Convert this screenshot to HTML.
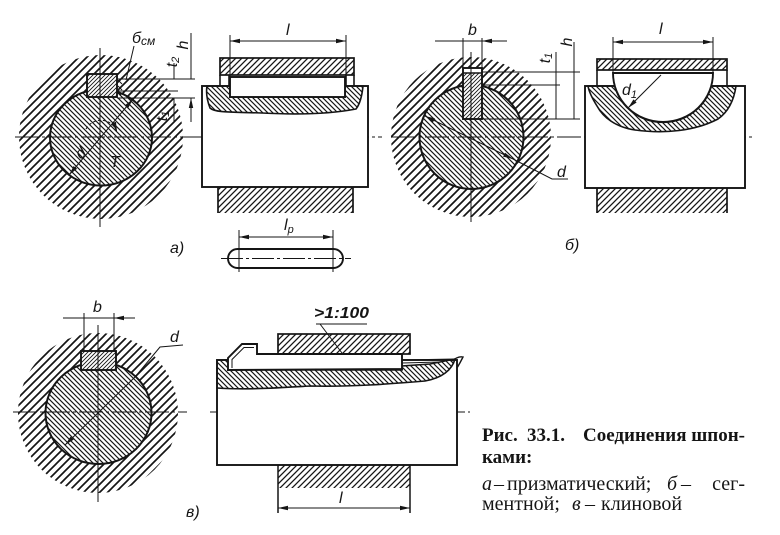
<!DOCTYPE html>
<html><head><meta charset="utf-8"><style>
html,body{margin:0;padding:0;background:#fff;}
svg{display:block;}
.lb{font-family:"Liberation Sans","DejaVu Sans",sans-serif;font-style:italic;font-size:16px;fill:#151515}
.cb{font-family:"Liberation Serif","DejaVu Serif",serif;font-weight:bold;font-size:19px;fill:#151515}
.cr{font-family:"Liberation Serif","DejaVu Serif",serif;font-size:20px;fill:#151515}
.ci{font-family:"Liberation Serif","DejaVu Serif",serif;font-size:20px;font-style:italic;fill:#151515}
</style></head><body>
<svg width="780" height="535" viewBox="0 0 780 535" xmlns="http://www.w3.org/2000/svg">
<defs>
<pattern id="hub" width="8" height="8" patternUnits="userSpaceOnUse"><path d="M-2,2 L2,-2 M0,8 L8,0 M6,10 L10,6" stroke="#151515" stroke-width="1.7"/></pattern>
<pattern id="sh" width="5" height="5" patternUnits="userSpaceOnUse"><path d="M-1,4 L1,6 M0,0 L5,5 M4,-1 L6,1" stroke="#151515" stroke-width="1.15"/></pattern>
<pattern id="hs" width="6" height="6" patternUnits="userSpaceOnUse"><path d="M-1.5,1.5 L1.5,-1.5 M0,6 L6,0 M4.5,7.5 L7.5,4.5" stroke="#151515" stroke-width="1.3"/></pattern>
<pattern id="kf" width="4" height="4" patternUnits="userSpaceOnUse"><path d="M-1,1 L1,-1 M0,4 L4,0 M3,5 L5,3" stroke="#151515" stroke-width="0.9"/></pattern>
<marker id="ar" markerWidth="10" markerHeight="6" refX="10" refY="3" orient="auto-start-reverse" markerUnits="userSpaceOnUse"><path d="M0,0.8 L10,3 L0,5.2 Z" fill="#151515"/></marker>
</defs>

<!-- ===== a) circle ===== -->
<circle cx="101" cy="137" r="82" fill="url(#hub)"/>
<ellipse cx="101" cy="137.5" rx="51" ry="48" fill="#fff"/>
<ellipse cx="101" cy="137.5" rx="51" ry="48" fill="url(#sh)" stroke="#151515" stroke-width="2"/>
<rect x="87" y="74" width="30" height="23" fill="#fff"/>
<rect x="87" y="74" width="30" height="23" fill="url(#kf)" stroke="#151515" stroke-width="1.9"/>
<path d="M15,137 H382" fill="none" stroke="#151515" stroke-width="1.1" stroke-dasharray="24 3 3 3"/>
<path d="M100,48 V227" fill="none" stroke="#151515" stroke-width="1"/>
<path d="M117,79 H195 M117,91 H178 M117,98 H195" fill="none" stroke="#151515" stroke-width="1"/>
<path d="M118,80 L122,84 M118,86 L122,90 M118,92 L121,95" fill="none" stroke="#151515" stroke-width="1"/>
<path d="M174,63 V79 M174,122 V98 M191,33 V79 M191,122 V98" fill="none" stroke="#151515" stroke-width="1" marker-end="url(#ar)"/>
<path d="M134,46 L126,80" fill="none" stroke="#151515" stroke-width="1"/>
<path d="M69,175 L133,99" fill="none" stroke="#151515" stroke-width="1" marker-start="url(#ar)" marker-end="url(#ar)"/>
<path d="M86,129 A17,17 0 0 1 117,132" fill="none" stroke="#151515" stroke-width="1" stroke-dasharray="3 2" marker-end="url(#ar)"/>
<text x="132" y="43" class="lb">б<tspan font-size="12" dy="2">см</tspan></text>
<text transform="translate(188,45) rotate(-90)" text-anchor="middle" class="lb">h</text>
<text transform="translate(177,62) rotate(-90)" text-anchor="middle" class="lb">t<tspan font-size="11" dy="2">2</tspan></text>
<text transform="translate(167,116) rotate(-90)" text-anchor="middle" class="lb">t<tspan font-size="11" dy="2">1</tspan></text>
<text transform="translate(84,157) rotate(-40)" text-anchor="middle" class="lb">d</text>
<text x="110" y="167" class="lb">T</text>

<!-- ===== a) side view ===== -->
<rect x="202" y="86" width="166" height="101" fill="#fff" stroke="#151515" stroke-width="1.9"/>
<path d="M207,86 H230 V97 H345 V86 H363 C362,96 360,104 356,109 C330,114 300,115 262,113 C235,112 215,113 210,108 C207,100 206,92 207,86 Z" fill="url(#sh)" stroke="#151515" stroke-width="1.6"/>
<rect x="230" y="77" width="115" height="20" fill="#fff" stroke="#151515" stroke-width="1.9"/>
<rect x="220" y="58" width="134" height="17" fill="url(#hs)" stroke="#151515" stroke-width="1.7"/>
<path d="M220,75 V86 M354,75 V86 M229,75 V86 M346,75 V86" fill="none" stroke="#151515" stroke-width="1.6"/>
<rect x="218" y="187" width="135" height="26" fill="url(#hs)"/>
<path d="M218,187 V213 M353,187 V213" fill="none" stroke="#151515" stroke-width="1.7"/>
<path d="M230,35 V77 M346,35 V77" fill="none" stroke="#151515" stroke-width="1"/>
<path d="M230,41 H346" fill="none" stroke="#151515" stroke-width="1" marker-start="url(#ar)" marker-end="url(#ar)"/>
<text x="286" y="35" class="lb">l</text>
<rect x="228" y="249" width="115" height="19" rx="9.5" fill="none" stroke="#151515" stroke-width="1.9"/>
<path d="M221,258.5 H351" fill="none" stroke="#151515" stroke-width="1" stroke-dasharray="22 3 3 3"/>
<path d="M239,230 V272 M333,230 V272" fill="none" stroke="#151515" stroke-width="1"/>
<path d="M239,237 H333" fill="none" stroke="#151515" stroke-width="1" marker-start="url(#ar)" marker-end="url(#ar)"/>
<text x="284" y="230" class="lb">l<tspan font-size="11" dy="3">p</tspan></text>
<text x="170" y="253" class="lb">a)</text>

<!-- ===== б) circle ===== -->
<circle cx="471" cy="137" r="80" fill="url(#hub)"/>
<circle cx="471.5" cy="137" r="52" fill="#fff"/>
<circle cx="471.5" cy="137" r="52" fill="url(#sh)" stroke="#151515" stroke-width="2"/>
<rect x="463" y="68" width="19" height="51" fill="#fff"/>
<rect x="463" y="73" width="19" height="46" fill="url(#kf)"/>
<rect x="463" y="68" width="19" height="51" fill="none" stroke="#151515" stroke-width="1.9"/>
<path d="M463,73 H482" stroke="#151515" stroke-width="1.5"/>
<path d="M392,137 H752" fill="none" stroke="#151515" stroke-width="1.1" stroke-dasharray="24 3 3 3"/>
<path d="M471,52 V222" fill="none" stroke="#151515" stroke-width="1"/>
<path d="M482,72 H580 M482,85 H560 M463,119 H580" fill="none" stroke="#151515" stroke-width="1"/>
<path d="M556,52 V119 M574,42 V119 M435,41 H507 M463,38 V68 M482,38 V68" fill="none" stroke="#151515" stroke-width="1"/>
<path d="M556,100 V85 M556,100 V119 M574,95 V72 M574,95 V119 M440,41 H463 M502,41 H482" fill="none" stroke="#151515" stroke-width="1" marker-end="url(#ar)"/>
<path d="M425,116 L513,159" fill="none" stroke="#151515" stroke-width="1" marker-start="url(#ar)" marker-end="url(#ar)"/>
<path d="M513,159 L552,179 H568" fill="none" stroke="#151515" stroke-width="1"/>
<text x="468" y="35" class="lb">b</text>
<text transform="translate(550,58) rotate(-90)" text-anchor="middle" class="lb">t<tspan font-size="11" dy="2">1</tspan></text>
<text transform="translate(572,42) rotate(-90)" text-anchor="middle" class="lb">h</text>
<text x="557" y="177" class="lb">d</text>
<text x="565" y="250" class="lb">б)</text>

<!-- ===== б) side view ===== -->
<rect x="585" y="86" width="160" height="102" fill="#fff" stroke="#151515" stroke-width="1.9"/>
<path d="M588,86 H614.7 A50,49 0 0 0 711.3,86 H736 C734,100 728,112 718,119 C695,131 665,134 635,130 C615,127 603,117 597,106 C592,98 589,92 588,86 Z" fill="url(#sh)" stroke="#151515" stroke-width="1.6"/>
<path d="M613,73 H713 A50,49 0 0 1 613,73 Z" fill="#fff" stroke="#151515" stroke-width="1.9"/>
<rect x="597" y="59" width="130" height="11" fill="url(#hs)" stroke="#151515" stroke-width="1.7"/>
<path d="M597,70 V86 M727,70 V86" fill="none" stroke="#151515" stroke-width="1.6"/>
<path d="M613,37 V73 M713,37 V73" fill="none" stroke="#151515" stroke-width="1"/>
<path d="M613,42 H713" fill="none" stroke="#151515" stroke-width="1" marker-start="url(#ar)" marker-end="url(#ar)"/>
<path d="M661,75 L628,108" fill="none" stroke="#151515" stroke-width="1" marker-end="url(#ar)"/>
<rect x="597" y="188" width="130" height="25" fill="url(#hs)"/>
<path d="M597,188 V213 M727,188 V213" fill="none" stroke="#151515" stroke-width="1.7"/>
<text x="659" y="34" class="lb">l</text>
<text x="622" y="95" class="lb">d<tspan font-size="11" dy="3">1</tspan></text>

<!-- ===== в) circle ===== -->
<circle cx="98" cy="413" r="80" fill="url(#hub)"/>
<ellipse cx="98.5" cy="413" rx="53" ry="51" fill="#fff"/>
<ellipse cx="98.5" cy="413" rx="53" ry="51" fill="url(#sh)" stroke="#151515" stroke-width="2"/>
<rect x="81" y="351" width="35" height="19" fill="#fff"/>
<rect x="81" y="351" width="35" height="19" fill="url(#kf)" stroke="#151515" stroke-width="1.9"/>
<path d="M13,412 H187 M210,412 H470" fill="none" stroke="#151515" stroke-width="1.1" stroke-dasharray="24 3 3 3"/>
<path d="M98,325 V502" fill="none" stroke="#151515" stroke-width="1"/>
<path d="M84,313 V351 M114,313 V351 M84,318 H114" fill="none" stroke="#151515" stroke-width="1"/>
<path d="M63,318 H84 M135,318 H114" fill="none" stroke="#151515" stroke-width="1" marker-end="url(#ar)"/>
<path d="M135,377 L65,445" fill="none" stroke="#151515" stroke-width="1" marker-end="url(#ar)"/>
<path d="M135,377 L160,347 L183,345" fill="none" stroke="#151515" stroke-width="1"/>
<text x="93" y="312" class="lb">b</text>
<text x="170" y="342" class="lb">d</text>
<text x="186" y="517" class="lb">в)</text>

<!-- ===== в) side view ===== -->
<rect x="217" y="360" width="240" height="105" fill="#fff" stroke="#151515" stroke-width="1.9"/>
<path d="M217,360 H228 V370 H402 V366 L430,364 L455,359 C452,370 442,378 425,381 C390,384 350,387 310,386 C275,388 245,390 217,388 Z" fill="url(#sh)" stroke="#151515" stroke-width="1.6"/>
<path d="M228,370 V358 L242,344 H257 V354 H402 V369 Z" fill="#fff" stroke="#151515" stroke-width="1.9"/>
<path d="M232,368 V359.5 L244,347.5 H254" fill="none" stroke="#151515" stroke-width="1"/>
<rect x="278" y="334" width="132" height="20" fill="url(#hs)" stroke="#151515" stroke-width="1.7"/>
<path d="M402,360 L455,359 M402,363 L440,362" fill="none" stroke="#151515" stroke-width="1"/>
<path d="M452,361 Q458,356 463,357 Q460,363 457,368" fill="none" stroke="#151515" stroke-width="1.4"/>
<rect x="278" y="465" width="132" height="23" fill="url(#hs)"/>
<path d="M278,465 V513 M410,465 V513" fill="none" stroke="#151515" stroke-width="1.5"/>
<path d="M278,508 H410" fill="none" stroke="#151515" stroke-width="1" marker-start="url(#ar)" marker-end="url(#ar)"/>
<text x="339" y="503" class="lb">l</text>
<path d="M316,324 H367 M320,324 L342,353" fill="none" stroke="#151515" stroke-width="1"/>
<text x="314" y="318" class="lb" font-weight="bold" textLength="55" lengthAdjust="spacingAndGlyphs">&gt;1:100</text>

<!-- ===== caption ===== -->
<text x="482" y="441" class="cb">Рис.</text>
<text x="527" y="441" class="cb">33.1.</text>
<text x="583" y="441" class="cb">Соединения</text>
<text x="745" y="441" class="cb" text-anchor="end">шпон-</text>
<text x="482" y="463" class="cb">ками:</text>

<text x="482" y="490" class="ci">а</text>
<text x="494" y="490" class="cr">–</text>
<text x="507" y="490" class="cr">призматический;</text>
<text x="667" y="490" class="ci">б</text>
<text x="681" y="490" class="cr">–</text>
<text x="745" y="490" class="cr" text-anchor="end">сег-</text>

<text x="482" y="510" class="cr">ментной;</text>
<text x="572" y="510" class="ci">в</text>
<text x="585" y="510" class="cr">–</text>
<text x="601" y="510" class="cr">клиновой</text>
</svg>
</body></html>
